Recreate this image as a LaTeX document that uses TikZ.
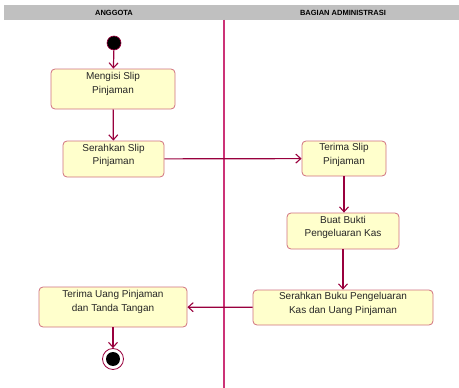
\documentclass[tikz,border=0pt]{standalone}
\usepackage{fontspec}
\setmainfont{Liberation Sans}
\usetikzlibrary{arrows.meta}
\definecolor{flow}{HTML}{99003D}
\definecolor{boxline}{HTML}{D0707F}
\definecolor{boxfill}{HTML}{FFFFCC}
\definecolor{lanebar}{HTML}{C0C0C0}
\definecolor{laneline}{HTML}{CC3377}
\begin{document}
\begin{tikzpicture}[x=1pt,y=-1pt,
  activity/.style={draw=boxline, line width=0.8pt, fill=boxfill, rounded corners=4pt, inner sep=0pt},
  acttext/.style={align=center, font=\fontsize{10}{13.5}\selectfont, inner sep=0pt, text=black!85},
  flowline/.style={draw=flow, line width=1.2pt, -{Straight Barb[length=5pt,width=9pt,line width=1.1pt]}},
  lanetitle/.style={font=\bfseries\fontsize{7.5}{8}\selectfont, text=black}]
  \useasboundingbox (0,0) rectangle (459,388);
  % swimlane header and divider
  \fill[lanebar] (4,5) rectangle (459,19.5);
  \node[lanetitle] (laneA) at (114,12.5) {ANGGOTA};
  \node[lanetitle] (laneB) at (343,12.5) {BAGIAN ADMINISTRASI};
  \draw[laneline, line width=1.3pt] (224,19.5) -- (224,388);
  % start and end states
  \node[circle, fill=black, draw=flow, line width=0.6pt, minimum size=14pt, inner sep=0pt] (start) at (114,43) {};
  \node[circle, draw=flow, line width=0.8pt, fill=white, minimum size=21pt, inner sep=0pt] (stop) at (113,359) {};
  \node[circle, fill=black, minimum size=14pt, inner sep=0pt] at (stop) {};
  % activity boxes
  \node[activity, minimum width=124pt, minimum height=40pt] (isi) at (113,89) {};
  \node[activity, minimum width=101pt, minimum height=36pt] (serah) at (113.5,159) {};
  \node[activity, minimum width=84pt, minimum height=35pt] (terima) at (344,158.5) {};
  \node[activity, minimum width=112pt, minimum height=36pt] (bukti) at (343,231) {};
  \node[activity, minimum width=180pt, minimum height=35pt] (buku) at (343,307.5) {};
  \node[activity, minimum width=148pt, minimum height=40pt] (uang) at (113,307) {};
  % activity labels, set a little above each box centre
  \node[acttext] (isi-t) at ([yshift=5pt]isi.center) {Mengisi Slip\\Pinjaman};
  \node[acttext] (serah-t) at ([yshift=3.5pt]serah.center) {Serahkan Slip\\Pinjaman};
  \node[acttext] (terima-t) at ([yshift=3.5pt]terima.center) {Terima Slip\\Pinjaman};
  \node[acttext] (bukti-t) at ([yshift=3.5pt]bukti.center) {Buat Bukti\\Pengeluaran Kas};
  \node[acttext] (buku-t) at ([yshift=3.5pt]buku.center) {Serahkan Buku Pengeluaran\\Kas dan Uang Pinjaman};
  \node[acttext] (uang-t) at ([yshift=5pt]uang.center) {Terima Uang Pinjaman\\dan Tanda Tangan};
  % control flow
  \draw[flowline] (start) -- (isi);
  \draw[flowline] (isi) -- (serah);
  \draw[flowline] (serah) -- (terima);
  \draw[flowline] (terima) -- (terima |- bukti.north);
  \draw[flowline] (bukti) -- (bukti |- buku.north);
  \draw[flowline] (buku) -- (uang);
  \draw[flowline] (uang) -- (stop);
\end{tikzpicture}
\end{document}
